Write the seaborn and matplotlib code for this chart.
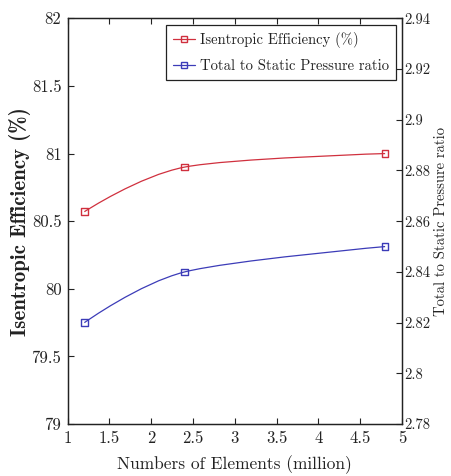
import numpy as np
import pandas as pd
import matplotlib
matplotlib.use("Agg")
import matplotlib.pyplot as plt
from matplotlib.path import Path
from matplotlib.patches import PathPatch
from matplotlib.lines import Line2D
from matplotlib.ticker import FixedLocator, FormatStrFormatter
import seaborn as sns

# ---- data ----
elements = [1.2, 2.4, 4.8]                 # million elements
efficiency = [80.57, 80.90, 81.00]         # isentropic efficiency (%)
pressure_ratio = [2.82, 2.84, 2.85]        # total-to-static pressure ratio

x_ticks = [1, 1.5, 2, 2.5, 3, 3.5, 4, 4.5, 5]
eff_ticks = [79, 79.5, 80, 80.5, 81, 81.5, 82]
pr_ticks = [2.78, 2.8, 2.82, 2.84, 2.86, 2.88, 2.9, 2.92, 2.94]

label_eff = "Isentropic Efficiency (%)"
label_pr = "Total to Static Pressure ratio"
xlabel = "Numbers of Elements (million)"
ylabel_left = "Isentropic Efficiency (%)"
ylabel_right = "Total to Static Pressure ratio"

RED = "#d0303e"
BLUE = "#3c3cb8"

sns.set_theme(style="white")
plt.rcParams["font.family"] = ["cmr10", "DejaVu Serif"]
plt.rcParams["axes.formatter.use_mathtext"] = True
plt.rcParams["axes.edgecolor"] = "#222222"
plt.rcParams["axes.linewidth"] = 0.9

df = pd.DataFrame({"elements": elements, "efficiency": efficiency,
                   "pressure_ratio": pressure_ratio})

fig = plt.figure(figsize=(4.51, 4.76), dpi=100)
ax = fig.add_axes([0.150, 0.109, 0.741, 0.8526])
ax2 = ax.twinx()


def smooth_path(xs, ys, k=0.15):
    pts = np.column_stack([xs, ys]).astype(float)
    n = len(pts)
    verts = [pts[0]]
    codes = [Path.MOVETO]
    for i in range(n - 1):
        p0, p1 = pts[i], pts[i + 1]
        c1 = p0 if i == 0 else p0 + k * (pts[i + 1] - pts[i - 1])
        c2 = p1 if i + 1 == n - 1 else p1 - k * (pts[i + 2] - pts[i])
        verts += [c1, c2, p1]
        codes += [Path.CURVE4] * 3
    return Path(verts, codes)


# smooth curves (pgfplots "smooth") through the data points
ax.add_patch(PathPatch(smooth_path(df["elements"], df["efficiency"]),
                       facecolor="none", edgecolor=RED, lw=0.9, zorder=2))
ax2.add_patch(PathPatch(smooth_path(df["elements"], df["pressure_ratio"]),
                        facecolor="none", edgecolor=BLUE, lw=0.9, zorder=2))

# markers
sns.scatterplot(data=df, x="elements", y="efficiency", ax=ax, marker="s",
                s=22, facecolor="none", edgecolor=RED, linewidth=1.0, zorder=3)
sns.scatterplot(data=df, x="elements", y="pressure_ratio", ax=ax2, marker="s",
                s=22, facecolor="none", edgecolor=BLUE, linewidth=1.0, zorder=3)

ax.set_xlim(1, 5)
ax.set_ylim(79, 82)
ax2.set_ylim(2.78, 2.94)

ax.xaxis.set_major_locator(FixedLocator(x_ticks))
ax.xaxis.set_major_formatter(FormatStrFormatter("%g"))
ax.yaxis.set_major_locator(FixedLocator(eff_ticks))
ax.yaxis.set_major_formatter(FormatStrFormatter("%g"))
ax2.yaxis.set_major_locator(FixedLocator(pr_ticks))
ax2.yaxis.set_major_formatter(FormatStrFormatter("%g"))

ax.tick_params(axis="x", direction="in", length=4, width=0.8, top=True,
               bottom=True, labelsize=12, pad=5, colors="#222222")
ax.tick_params(axis="y", direction="in", length=4, width=0.8, left=True,
               right=False, labelsize=12, pad=4.5, colors="#222222")
ax2.tick_params(axis="y", direction="in", length=4, width=0.8, right=True,
                labelsize=10.5, pad=2.0, colors="#222222")

ax.set_xlabel(xlabel, fontsize=12.5, color="#222222")
ax.xaxis.set_label_coords(0.5, -0.076)
ax.set_ylabel(ylabel_left, fontsize=15, family=["cmb10", "DejaVu Serif"],
              color="#222222")
ax.yaxis.set_label_coords(-0.11, 0.5)
ax2.set_ylabel(ylabel_right, fontsize=10.5, color="#222222")
ax2.yaxis.set_label_coords(1.097, 0.5)

handles = [
    Line2D([], [], color=RED, lw=0.9, marker="s", markersize=4.5,
           markerfacecolor="none", markeredgecolor=RED, markeredgewidth=1.0),
    Line2D([], [], color=BLUE, lw=0.9, marker="s", markersize=4.5,
           markerfacecolor="none", markeredgecolor=BLUE, markeredgewidth=1.0),
]
leg = ax2.legend(handles, [label_eff, label_pr], loc="upper right",
                 bbox_to_anchor=(396 / 451, 1 - 25 / 476),
                 bbox_transform=fig.transFigure, borderaxespad=0,
                 fontsize=10.5, frameon=True, fancybox=False, framealpha=1,
                 edgecolor="#222222", handlelength=1.5, handletextpad=0.3,
                 labelspacing=0.75, borderpad=0.5)
leg.get_frame().set_linewidth(0.9)
for t in leg.get_texts():
    t.set_color("#222222")

fig.savefig("out.png", dpi=100)
